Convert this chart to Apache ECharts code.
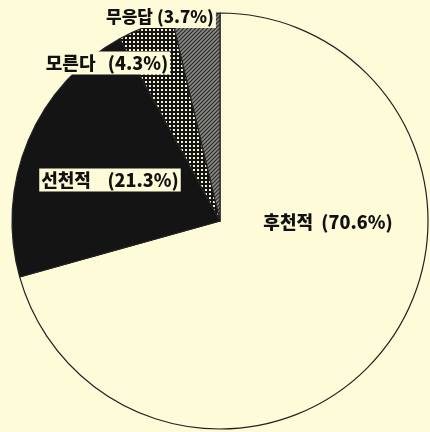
<!DOCTYPE html>
<html>
<head>
<meta charset="utf-8">
<script src="https://cdn.jsdelivr.net/npm/echarts@6/dist/echarts.min.js"></script>
<style>
  html, body { margin: 0; padding: 0; background: #fdfbd8; }
  #chart { width: 430px; height: 432px; }
</style>
</head>
<body>
<div id="chart"></div>
<script>
// Survey answers: origin of the condition (percent)
const categories = ['후천적', '선천적', '모른다', '무응답'];
const shares = [70.6, 21.3, 4.3, 3.7];

const paper = '#fdfbd8';
const ink = '#141414';

// fill patterns for the small slices
function dotPattern() {
  const c = document.createElement('canvas');
  c.width = 4; c.height = 4;
  const g = c.getContext('2d');
  g.fillStyle = ink; g.fillRect(0, 0, 4, 4);
  g.fillStyle = '#f4f1d0'; g.fillRect(1, 1, 2, 2);
  return c;
}
function hatchPattern() {
  const c = document.createElement('canvas');
  c.width = 4; c.height = 4;
  const g = c.getContext('2d');
  g.fillStyle = '#8a8a84'; g.fillRect(0, 0, 4, 4);
  g.strokeStyle = '#2a2a2a'; g.lineWidth = 1.2;
  g.beginPath();
  g.moveTo(0, 4); g.lineTo(4, 0);
  g.moveTo(-1, 1); g.lineTo(1, -1);
  g.moveTo(3, 5); g.lineTo(5, 3);
  g.stroke();
  return c;
}

const fills = [
  paper,
  ink,
  { image: dotPattern(), repeat: 'repeat' },
  { image: hatchPattern(), repeat: 'repeat' }
];

// label anchor, name/value gap and size for each slice
const labelSpots = [
  { x: 328, y: 222 },
  { x: 110, y: 180 },
  { x: 107, y: 63 },
  { x: 160, y: 17 }
];
const gaps = ['  ', '    ', '   ', ' '];
const sizes = [18, 18, 18, 17];

const chart = echarts.init(document.getElementById('chart'), null, { renderer: 'canvas' });
chart.setOption({
  backgroundColor: paper,
  animation: false,
  series: [{
    type: 'pie',
    center: [220, 221],
    radius: 208,
    startAngle: 90,
    clockwise: true,
    avoidLabelOverlap: false,
    data: categories.map((name, i) => ({
      name: name,
      value: shares[i],
      itemStyle: { color: fills[i] },
      label: { fontSize: sizes[i] }
    })),
    itemStyle: { borderColor: '#222', borderWidth: 1.2 },
    label: {
      show: true,
      position: 'inside',
      formatter: p => p.name + gaps[p.dataIndex] + '(' + p.value + '%)',
      color: '#111',
      fontFamily: '"Noto Sans CJK KR", sans-serif',
      fontWeight: 900,
      fontSize: 18,
      backgroundColor: paper,
      padding: [3, 2, 2, 2]
    },
    labelLine: { show: false },
    labelLayout: p => ({
      x: labelSpots[p.dataIndex].x,
      y: labelSpots[p.dataIndex].y,
      align: 'center',
      verticalAlign: 'middle'
    }),
    emphasis: { disabled: true }
  }]
});
</script>
</body>
</html>
